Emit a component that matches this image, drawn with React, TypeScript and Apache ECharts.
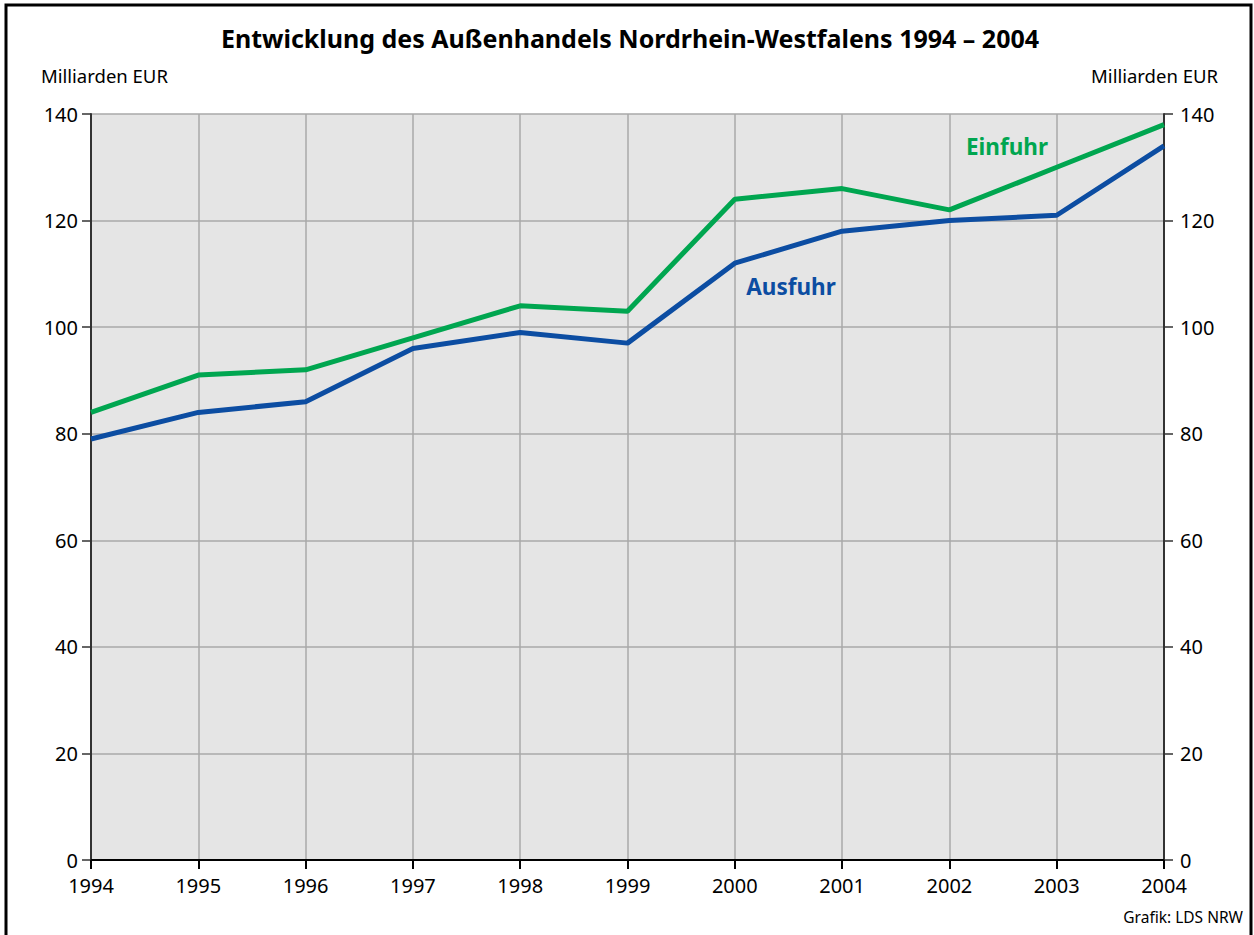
import React, { useEffect, useRef } from "react";
import * as echarts from "echarts";

const years = ["1994", "1995", "1996", "1997", "1998", "1999", "2000", "2001", "2002", "2003", "2004"];
const einfuhr = [84, 91, 92, 98, 104, 103, 124, 126, 122, 130, 138];
const ausfuhr = [79, 84, 86, 96, 99, 97, 112, 118, 120, 121, 134];

const FONT = "'Noto Sans', 'Open Sans', sans-serif";
const GREEN = "#00a650";
const BLUE = "#0c4da2";

export default function App() {
  const ref = useRef<HTMLDivElement>(null);
  useEffect(() => {
    if (!ref.current) return;
    const chart = echarts.init(ref.current, null, { renderer: "svg" });
    const yAxisBase = (pos: "left" | "right") => ({
      type: "value",
      position: pos,
      min: 0,
      max: 140,
      interval: 20,
      axisLine: { show: true, lineStyle: { color: "#333", width: 2 } },
      axisTick: { show: true, inside: false, length: 9, lineStyle: { color: "#333", width: 1.5 } },
      axisLabel: { color: "#000", fontSize: 20, fontFamily: FONT, margin: pos === "left" ? 13 : 16 },
      splitLine: { show: pos === "left", lineStyle: { color: "#a8a8a8", width: 1.5 } },
    });
    chart.setOption({
      animation: false,
      backgroundColor: "#fff",
      grid: {
        left: 91,
        top: 114,
        right: 90,
        bottom: 75,
        show: true,
        backgroundColor: "#e5e5e5",
        borderWidth: 0,
      },
      xAxis: {
        type: "category",
        data: years,
        boundaryGap: false,
        axisLine: { show: true, lineStyle: { color: "#000", width: 2 } },
        axisTick: { show: true, alignWithLabel: true, length: 9, lineStyle: { color: "#000", width: 2 } },
        axisLabel: { color: "#000", fontSize: 20, fontFamily: FONT, margin: 15 },
        splitLine: { show: true, lineStyle: { color: "#a8a8a8", width: 1.5 } },
      },
      yAxis: [yAxisBase("left"), yAxisBase("right")],
      series: [
        {
          name: "Einfuhr",
          type: "line",
          data: einfuhr,
          symbol: "none",
          lineStyle: { color: GREEN, width: 5 },
          z: 3,
        },
        {
          name: "Ausfuhr",
          type: "line",
          data: ausfuhr,
          symbol: "none",
          lineStyle: { color: BLUE, width: 5 },
          z: 4,
        },
      ],
      graphic: [
        {
          type: "rect",
          shape: { x: 6, y: 5, width: 1245, height: 960 },
          style: { fill: "none", stroke: "#000", lineWidth: 3 },
          silent: true,
          z: 100,
        },
        {
          type: "text",
          x: 630,
          y: 38,
          style: {
            text: "Entwicklung des Außenhandels Nordrhein-Westfalens 1994 – 2004",
            fontFamily: FONT,
            fontWeight: "bold",
            fontSize: 25,
            fill: "#000",
            align: "center",
            verticalAlign: "middle",
          },
        },
        {
          type: "text",
          x: 41,
          y: 75,
          style: { text: "Milliarden EUR", fontFamily: FONT, fontSize: 18.5, fill: "#000", align: "left", verticalAlign: "middle" },
        },
        {
          type: "text",
          x: 1218,
          y: 75,
          style: { text: "Milliarden EUR", fontFamily: FONT, fontSize: 18.5, fill: "#000", align: "right", verticalAlign: "middle" },
        },
        {
          type: "text",
          x: 1007,
          y: 146,
          style: { text: "Einfuhr", fontFamily: FONT, fontWeight: "bold", fontSize: 22.5, fill: GREEN, align: "center", verticalAlign: "middle" },
        },
        {
          type: "text",
          x: 791,
          y: 286,
          style: { text: "Ausfuhr", fontFamily: FONT, fontWeight: "bold", fontSize: 22.5, fill: BLUE, align: "center", verticalAlign: "middle" },
        },
        {
          type: "text",
          x: 1243,
          y: 917,
          style: { text: "Grafik: LDS NRW", fontFamily: FONT, fontSize: 15.5, fill: "#000", align: "right", verticalAlign: "middle" },
        },
      ],
    });
    return () => chart.dispose();
  }, []);
  return (
    <div
      ref={ref}
      style={{ position: "absolute", left: 0, top: 0, width: 1254, height: 935 }}
    />
  );
}
